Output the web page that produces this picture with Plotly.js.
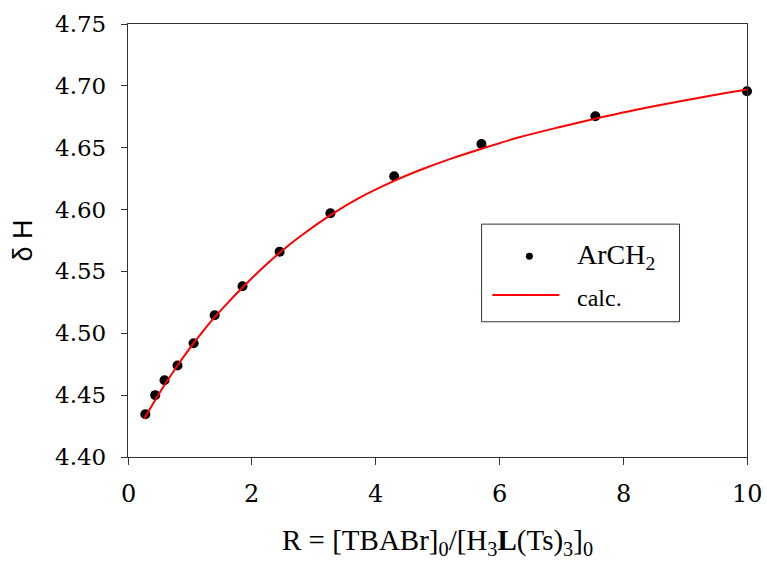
<!DOCTYPE html>
<html>
<head>
<meta charset="utf-8">
<script src="https://cdn.plot.ly/plotly-3.0.1.min.js"></script>
<style>html,body{margin:0;padding:0;background:#fff;}#chart{width:767px;height:568px;}</style>
</head>
<body>
<div id="chart"></div>
<script>
// Observed data (ArCH2)
var obsR = [0.28, 0.44, 0.59, 0.80, 1.06, 1.40, 1.85, 2.45, 3.27, 4.30, 5.71, 7.55, 10.0];
var obsDelta = [4.4345, 4.450, 4.462, 4.474, 4.492, 4.5146, 4.538, 4.566, 4.597, 4.627, 4.653, 4.6755, 4.6957];
// Calculated curve
var calcR = [0.26, 0.44, 0.6, 0.8, 1.0, 1.2, 1.4, 1.6, 1.87, 2.2, 2.46, 2.8, 3.24, 3.7, 4.29, 4.72, 5.21, 5.7, 6.29, 7.0, 7.55, 8.1, 8.71, 9.3, 10];
var calcDelta = [4.431, 4.446, 4.459, 4.474, 4.488, 4.501, 4.513, 4.524, 4.538, 4.554, 4.5655, 4.579, 4.5945, 4.6085, 4.623, 4.632, 4.641, 4.649, 4.658, 4.667, 4.6735, 4.6795, 4.6855, 4.691, 4.697];
var xTickVals = [0, 2, 4, 6, 8, 10];
var xTickText = ['0', '2', '4', '6', '8', '10'];
var yTickVals = [4.40, 4.45, 4.50, 4.55, 4.60, 4.65, 4.70, 4.75];
var yTickText = ['4.40', '4.45', '4.50', '4.55', '4.60', '4.65', '4.70', '4.75'];
var legendNames = ['ArCH<sub>2</sub>', 'calc.'];

var serif = 'Liberation Serif, DejaVu Serif';
var digitSerif = 'DejaVu Serif';
var traces = [
  {x: obsR, y: obsDelta, type: 'scatter', mode: 'markers', name: legendNames[0], showlegend: false,
   marker: {color: '#000', size: 10}, cliponaxis: false},
  {x: calcR, y: calcDelta, type: 'scatter', mode: 'lines', name: legendNames[1], showlegend: false,
   line: {color: '#ff0000', width: 2, shape: 'spline'}, cliponaxis: false}
];
// legend box drawn in paper coordinates
var shapes = [
  {type: 'rect', xref: 'paper', yref: 'paper', x0: 0.5712, x1: 0.8910, y0: 0.3123, y1: 0.5378,
   line: {color: '#333', width: 1}, fillcolor: '#fff', layer: 'above'},
  {type: 'circle', xref: 'paper', yref: 'paper', x0: 0.6428, x1: 0.6541, y0: 0.4556, y1: 0.4717,
   line: {color: '#000', width: 0}, fillcolor: '#000', layer: 'above'},
  {type: 'line', xref: 'paper', yref: 'paper', x0: 0.5886, x1: 0.6968, y0: 0.3739, y1: 0.3739,
   line: {color: '#ff0000', width: 2}, layer: 'above'}
];
var annotations = [
  {xref: 'paper', yref: 'paper', x: 0.722, y: 0.4637, xanchor: 'left', yanchor: 'middle', showarrow: false,
   text: legendNames[0], font: {family: serif, size: 28, color: '#000'}},
  {xref: 'paper', yref: 'paper', x: 0.722, y: 0.368, xanchor: 'left', yanchor: 'middle', showarrow: false,
   text: legendNames[1], font: {family: serif, size: 24, color: '#000'}}
];
// tick labels (serif), placed through the axis scales
xTickVals.forEach(function (v, i) {
  annotations.push({xref: 'x', yref: 'paper', x: v, y: 0, xanchor: 'center', yanchor: 'top', yshift: -21,
    showarrow: false, text: xTickText[i], font: {family: digitSerif, size: 24, color: '#000'}});
});
yTickVals.forEach(function (v, i) {
  annotations.push({xref: 'paper', yref: 'y', x: 0, y: v, xanchor: 'right', yanchor: 'middle', xshift: -20,
    showarrow: false, text: yTickText[i], font: {family: digitSerif, size: 23, color: '#000'}});
});
var layout = {
  width: 767, height: 568,
  margin: {l: 127.5, r: 20.3, t: 24, b: 111.3},
  paper_bgcolor: '#fff', plot_bgcolor: '#fff',
  font: {family: serif, size: 28, color: '#000'},
  showlegend: false,
  shapes: shapes, annotations: annotations,
  xaxis: {range: [0, 10], tickvals: xTickVals, ticktext: xTickText, showticklabels: false, ticks: 'outside', ticklen: 7, tickcolor: '#333',
          showline: true, linecolor: '#333', linewidth: 1, mirror: true, showgrid: false, zeroline: false,
          title: {text: 'R = [TBABr]<sub>0</sub>/[H<sub>3</sub><b>L</b>(Ts)<sub>3</sub>]<sub>0</sub>', font: {family: serif, size: 29}, standoff: 65}},
  yaxis: {range: [4.40, 4.75], tickvals: yTickVals, ticktext: yTickText, showticklabels: false, ticks: 'outside', ticklen: 6, tickcolor: '#333',
          showline: true, linecolor: '#333', linewidth: 1, mirror: true, showgrid: false, zeroline: false,
          title: {text: 'δ H', font: {family: 'Liberation Sans', size: 27}, standoff: 80}}
};
Plotly.newPlot('chart', traces, layout, {displayModeBar: false, staticPlot: true});
</script>
</body>
</html>
